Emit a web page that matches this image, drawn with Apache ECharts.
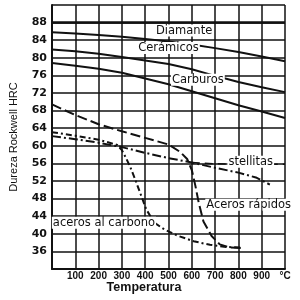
<!DOCTYPE html>
<html><head><meta charset="utf-8">
<script src="https://cdn.jsdelivr.net/npm/echarts@6/dist/echarts.min.js"></script>
<style>html,body{margin:0;padding:0;background:#fff}#c{width:300px;height:300px}</style>
</head><body><div id="c"></div>
<script>
// Tick labels
const xTickLabels = ['', '100', '200', '300', '400', '500', '600', '700', '800', '900', '°C'];
const yHiddenTicks = [32, 92];

// Series data: [temperatura °C, dureza HRC]
const diamante = [[0, 88], [1000, 88]];
const ceramicos = [[0,85.8],[100,85.5],[200,85.2],[300,84.8],[400,84.3],[500,83.7],[600,83.0],[700,82.2],[800,81.3],[900,80.3],[1000,79.2]];
const lineaMedia = [[0,81.9],[100,81.5],[200,80.9],[300,80.2],[400,79.4],[500,78.6],[600,77.4],[700,75.9],[800,74.5],[900,73.3],[1000,72.2]];
const carburos = [[0,78.8],[100,78.2],[200,77.5],[300,76.6],[400,75.3],[500,74.0],[600,72.4],[700,70.8],[800,69.2],[900,67.8],[1000,66.3]];
const acerosRapidos = [[0,69.4],[100,67.0],[200,64.9],[300,63.3],[400,61.8],[500,60.3],[550,58.6],[580,57.0],[600,54.5],[615,51.0],[630,47.0],[650,42.8],[685,39.5],[720,37.6],[760,36.9],[810,36.8]];
const acerosCarbono = [[0,63.1],[100,62.3],[200,61.4],[280,60.2],[300,59.0],[315,57.5],[335,55.3],[356,52.5],[384,48.5],[405,45.5],[440,42.5],[482,41.0],[538,39.6],[608,38.3],[678,37.5],[748,37.0],[811,36.9]];
const stellitas = [[0,62.2],[100,61.5],[200,60.7],[300,59.7],[400,58.4],[500,57.2],[550,56.7],[600,56.2],[700,55.0],[800,53.9],[875,52.8],[935,51.2]];
const stellitasGuia = [[600,56.2],[700,55.9],[1000,55.8]];

// Curve labels (in data units)
const curveLabels = [
  {text: 'Diamante', at: [567, 86.2]},
  {text: 'Cerámicos', at: [500, 82.2]},
  {text: 'Carburos', at: [626, 75.0]},
  {text: 'stellitas', at: [853, 56.4]},
  {text: 'Aceros rápidos', at: [844, 46.6]},
  {text: 'aceros al carbono', at: [223, 42.5]}
];

const chart = echarts.init(document.getElementById('c'), null, {renderer: 'canvas'});
const black = '#111';
function line(name, data, width, type) {
  return {name, type: 'line', data, showSymbol: false, symbol: 'none', smooth: false,
    lineStyle: {color: black, width, type: type || 'solid'}, z: 3, animation: false};
}
chart.setOption({
  animation: false,
  grid: {left: 47, right: 15, top: 5, bottom: 31, show: false},
  xAxis: {
    type: 'value', min: 0, max: 1000, interval: 100,
    axisLine: {show: true, onZero: false, lineStyle: {color: black, width: 2}},
    axisTick: {show: false},
    splitLine: {show: true, lineStyle: {color: black, width: 1.5}},
    axisLabel: {color: '#111', fontSize: 10, fontFamily: 'Liberation Sans, Arial', fontWeight: 'bold', margin: 2,
      formatter: v => xTickLabels[Math.round(v / 100)]}
  },
  yAxis: {
    type: 'value', min: 32, max: 92, interval: 4,
    name: 'Dureza Rockwell HRC', nameLocation: 'middle', nameGap: 33, nameRotate: 90,
    nameTextStyle: {color: '#111', fontSize: 11, fontFamily: 'Liberation Sans, Arial'},
    axisLine: {show: true, onZero: false, lineStyle: {color: black, width: 2}},
    axisTick: {show: false},
    splitLine: {show: true, lineStyle: {color: black, width: 1.5}},
    axisLabel: {color: '#111', fontSize: 11, fontFamily: 'DejaVu Sans', fontWeight: 'bold', margin: 5,
      formatter: v => yHiddenTicks.includes(v) ? '' : String(v)}
  },
  series: [
    line('Diamante', diamante, 2.5),
    line('Cerámicos', ceramicos, 2),
    line('Media', lineaMedia, 2),
    line('Carburos', carburos, 2),
    line('Aceros rápidos', acerosRapidos, 2, [10, 4]),
    line('aceros al carbono', acerosCarbono, 2, [6, 3, 2, 3]),
    line('stellitas', stellitas, 2, [9, 3, 2, 3]),
    line('stellitas guía', stellitasGuia, 1.5, [8, 5])
  ]
});

const g = curveLabels.map(l => {
  const p = chart.convertToPixel({gridIndex: 0}, l.at);
  return {type: 'text', x: p[0], y: p[1], z: 100,
    style: {text: l.text, fill: '#111', fontSize: 11.5, fontFamily: 'DejaVu Sans',
      align: 'center', verticalAlign: 'middle', backgroundColor: '#fff', padding: [0, 1]}};
});
g.push({type: 'text', x: 144, y: 288, z: 100,
  style: {text: 'Temperatura', fill: '#111', fontSize: 12.5, fontWeight: 'bold', fontFamily: 'Liberation Sans, Arial',
    align: 'center', verticalAlign: 'middle'}});
chart.setOption({graphic: g});
</script>
</body></html>
